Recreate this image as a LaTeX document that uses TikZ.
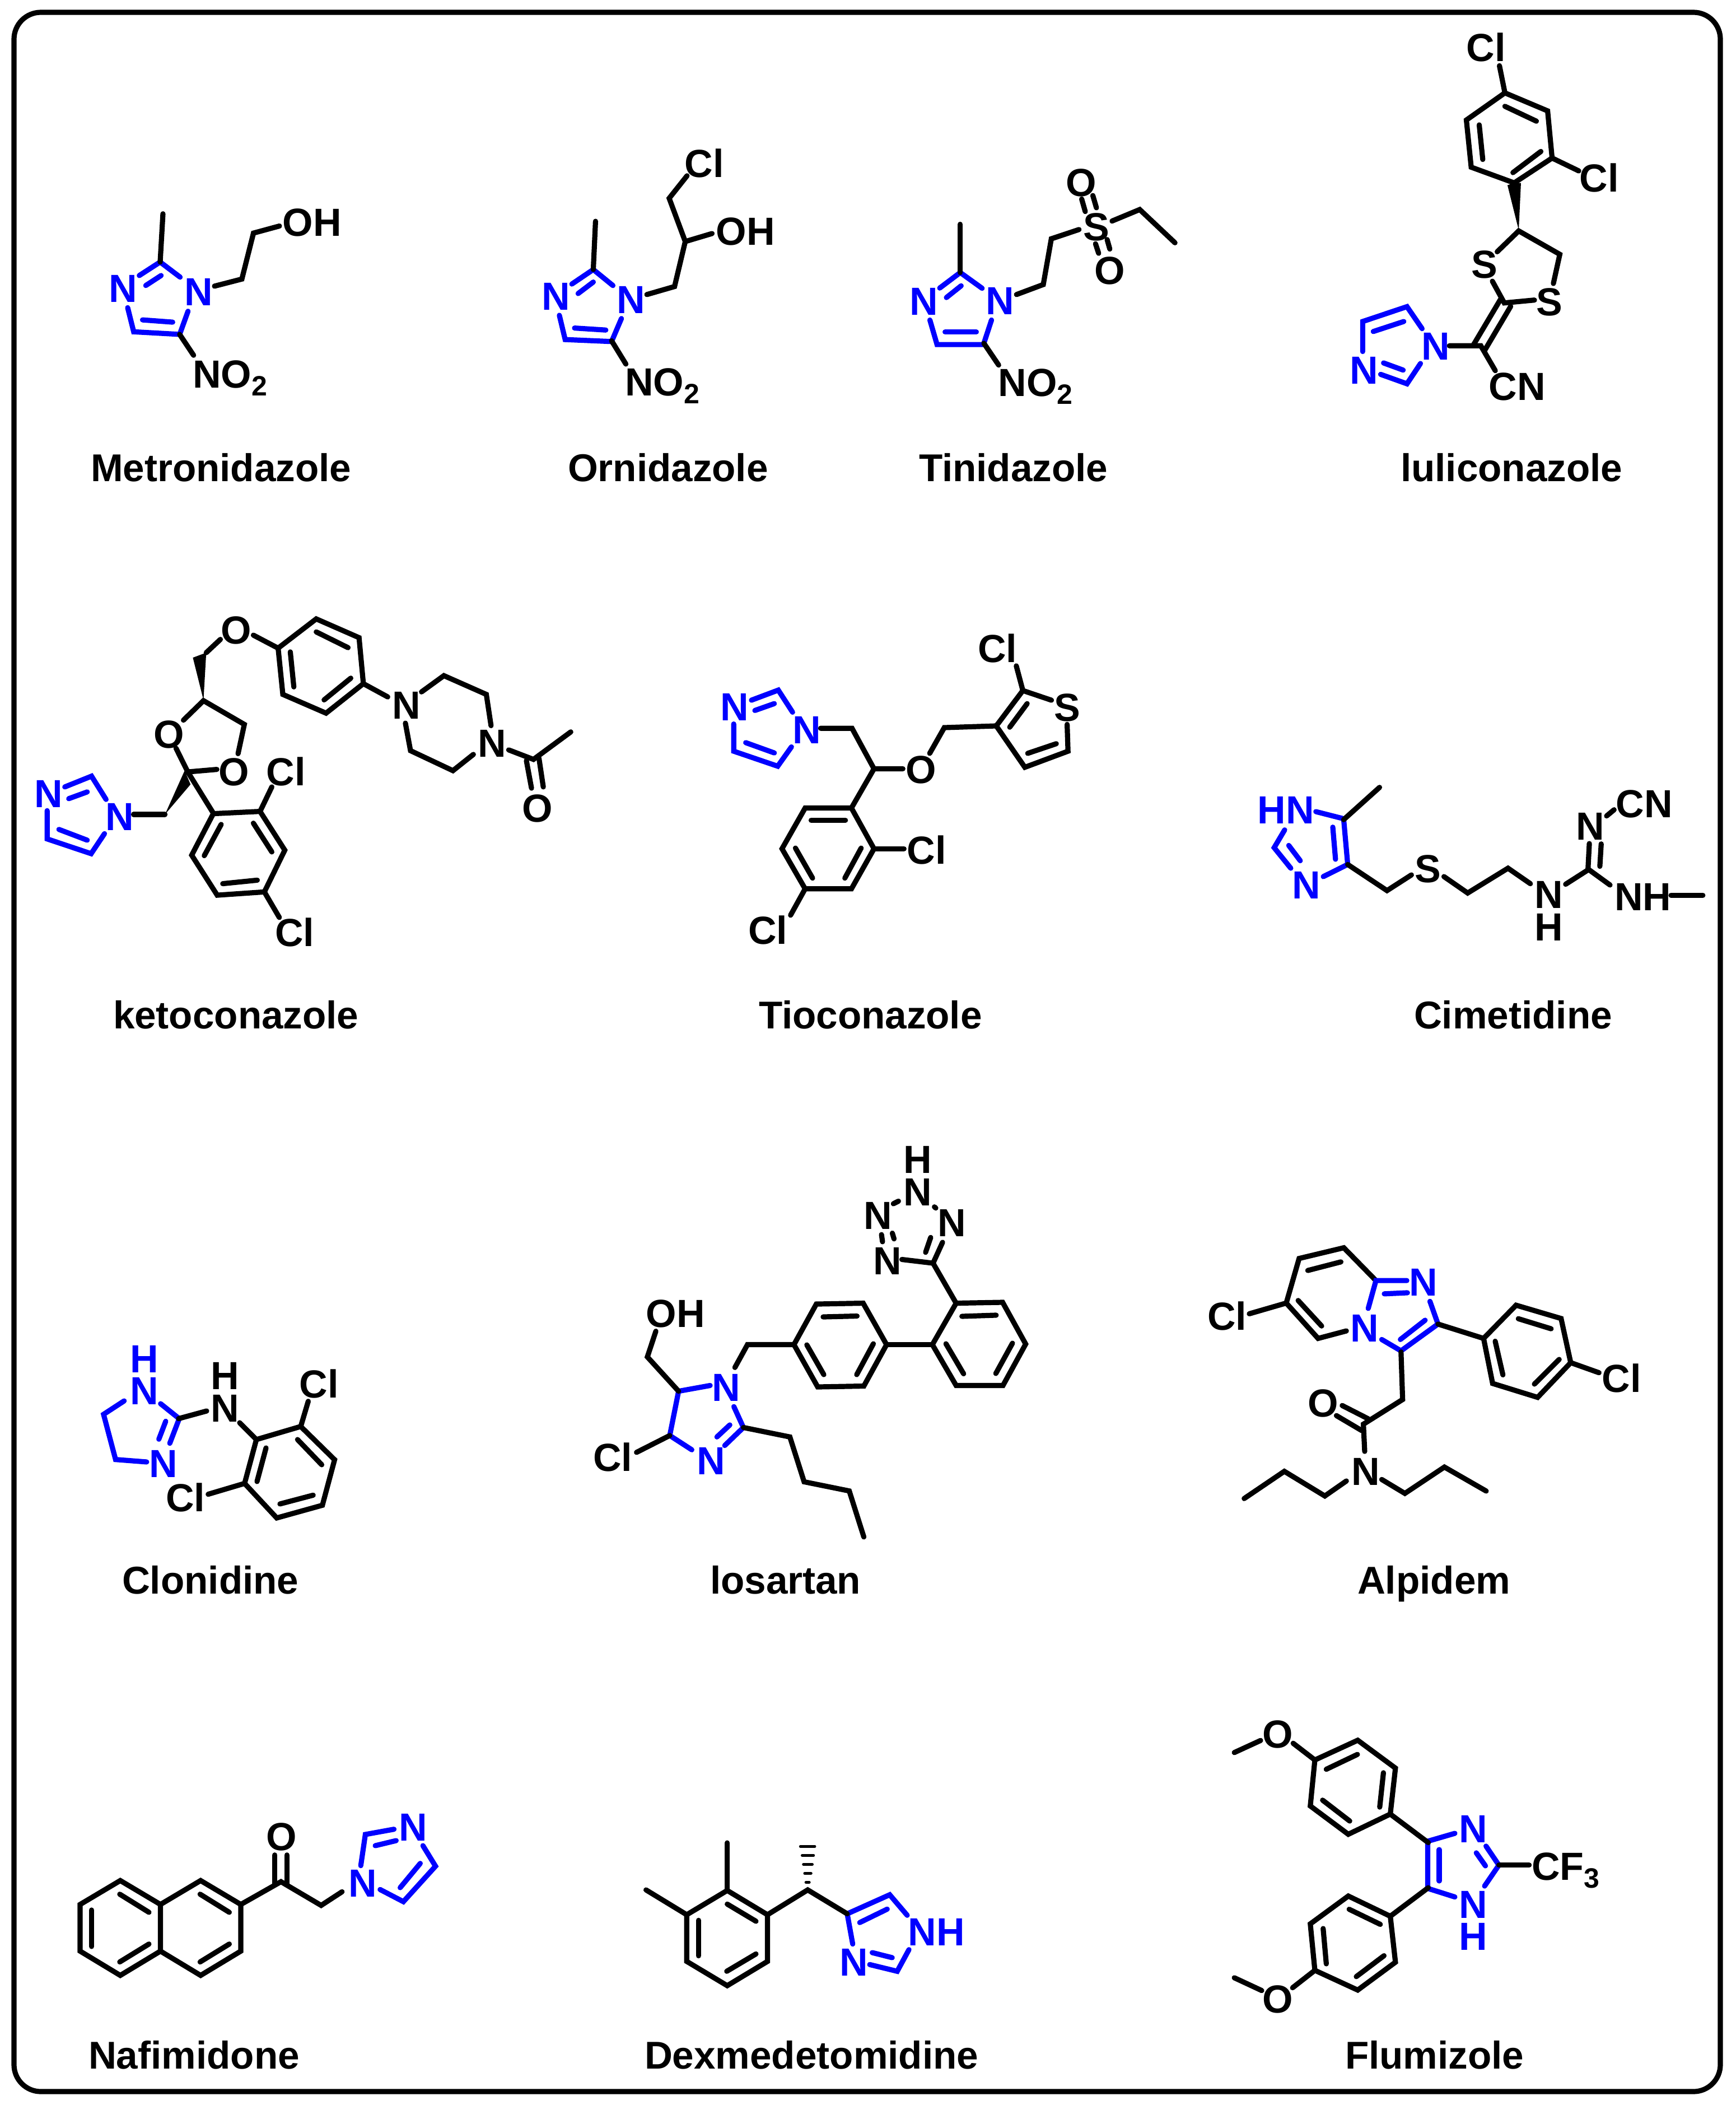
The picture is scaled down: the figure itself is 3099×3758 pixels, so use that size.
\documentclass[tikz,border=0pt]{standalone}
\usepackage{fontspec}
\setmainfont{Liberation Sans}
\definecolor{imz}{RGB}{0,0,255}
\newcounter{nn}
\newcommand\subd[1]{\raisebox{-3.5pt}{\fontsize{12.5}{13}\selectfont #1}}
\tikzset{
  bk/.style={draw=black,line width=2.3pt,line cap=round,line join=miter},
  bl/.style={draw=imz,line width=2.3pt,line cap=round,line join=miter},
  hashb/.style={draw=black,line width=1.3pt,line cap=round},
  frame/.style={draw=black,line width=2.3pt,rounded corners=12pt},
  atom/.style={anchor=base west,inner sep=0pt,outer sep=0pt,xshift=-1pt,font=\fontsize{17.5}{20}\selectfont\bfseries},
  title/.style={anchor=base west,inner sep=0pt,outer sep=0pt,xshift=-.5pt,font=\fontsize{17.3}{20}\selectfont\bfseries},
  zm/.style n args={4}{xshift=#1*0.25pt,yshift=-#2*0.25pt,x=#3*0.25pt,y=-#4*0.25pt}
}
\def\A(#1,#2)#3{\stepcounter{nn}\node[atom,text=black] (t\thenn) at (#1,#2) {#3};}
\def\B(#1,#2)#3{\stepcounter{nn}\node[atom,text=imz] (t\thenn) at (#1,#2) {#3};}
\def\T(#1,#2)#3{\stepcounter{nn}\node[title,text=black] (t\thenn) at (#1,#2) {#3};}
\begin{document}
\begin{tikzpicture}[x=0.25pt,y=-0.25pt]
\useasboundingbox (0,0) rectangle (3099,3758);
\draw[frame] (25,22) rectangle (3072,3734);
% titles
\T(164,859){Metronidazole}
\T(1016,859){Ornidazole}
\T(1643,859){Tinidazole}
\T(2503,859){luliconazole}
\T(204,1836){ketoconazole}
\T(1357,1836){Tioconazole}
\T(2527,1836){Cimetidine}
\T(220,2845){Clonidine}
\T(1270,2845){losartan}
\T(2426,2845){Alpidem}
\T(160,3693){Nafimidone}
\T(1153,3693){Dexmedetomidine}
\T(2404,3693){Flumizole}

% Metronidazole
\begin{scope}[zm={0}{0}{.829}{.574}]
\draw[bl] (300,857)--(345,815)--(388,862);
\draw[bl] (314,888)--(347,857);
\draw[bl] (275,957)--(288,1032)--(387,1040)--(405,968);
\draw[bl] (307,995)--(372,1002);
\draw[bk] (351,665)--(345,815);
\draw[bk] (387,1040)--(417,1105);
\draw[bk] (462,890)--(521,868)--(546,725)--(602,703);
\B(240,940){N}\B(402,950){N}
\A(614,735){OH}
\A(420,1207){NO\subd{2}}
\end{scope}

% Ornidazole, Tinidazole
\begin{scope}[zm={900}{200}{.7972}{.4464}]
\draw[bl] (152,688)--(200,630)--(244,694);
\draw[bl] (166,726)--(200,680);
\draw[bl] (124,813)--(137,910)--(241,918)--(263,826);
\draw[bl] (158,864)--(228,872);
\draw[bk] (205,437)--(200,630);
\draw[bk] (241,915)--(273,1008);
\draw[bk] (320,730)--(382,698)--(406,518)--(370,345)--(410,255);
\draw[bk] (406,518)--(466,486);
\B(90,792){N}\B(258,806){N}
\A(410,260){Cl}\A(480,532){OH}\A(276,1135){NO\subd{2}}
\draw[bl] (976,704)--(1022,642)--(1071,705);
\draw[bl] (991,742)--(1024,695);
\draw[bl] (954,832)--(970,930)--(1074,930)--(1092,832);
\draw[bl] (988,880)--(1058,880);
\draw[bk] (1022,449)--(1022,642);
\draw[bk] (1075,925)--(1108,1012);
\draw[bk] (1148,730)--(1208,690)--(1226,507)--(1288,470);
\draw[bk] (1294,348)--(1302,398);\draw[bk] (1319,334)--(1327,383);
\draw[bk] (1325,527)--(1332,565);\draw[bk] (1351,510)--(1357,548);
\draw[bk] (1362,436)--(1424,390)--(1503,523);
\B(914,812){N}\B(1084,810){N}
\A(1303,515){S}\A(1264,338){O}\A(1328,690){O}
\A(1112,1137){NO\subd{2}}
\end{scope}

% Luliconazole
\begin{scope}[zm={2200}{0}{.5733}{.5102}]
\draw[bk] (850,325)--(983,388)--(997,553)--(879,640)--(745,585)--(730,420)--cycle;
\draw[bk] (850,372)--(948,424);\draw[bk] (962,530)--(875,604);\draw[bk] (770,437)--(781,558);
\draw[bk] (833,230)--(850,325);\draw[bk] (997,553)--(1080,598);
\fill[black] (893,805)--(858,648)--(879,640)--(900,640)--cycle;
\draw[bk] (826,881)--(893,808)--(1021,890)--(1001,992);
\draw[bk] (811,984)--(848,1060)--(942,1050);
\draw[bk] (836,1048)--(753,1205);\draw[bk] (868,1072)--(786,1228);
\draw[bk] (677,1210)--(775,1210)--(820,1297);
\draw[bl] (592,1150)--(545,1073)--(407,1125)--(407,1230);
\draw[bl] (535,1125)--(440,1160);
\draw[bl] (587,1272)--(545,1343)--(463,1310);
\draw[bl] (472,1270)--(533,1295);
\A(737,215){Cl}\A(1090,672){Cl}\A(752,973){S}\A(955,1105){S}\A(807,1400){CN}
\B(598,1260){N}\B(374,1343){N}
\end{scope}

% Ketoconazole
\begin{scope}[zm={0}{1050}{.7015}{.4464}]
\fill[black] (518,448)--(491,278)--(525,258)--cycle;
\draw[bk] (525,258)--(561,205);
\draw[bk] (708,240)--(805,123)--(914,198)--(925,382)--(830,500)--(720,425)--cycle;
\draw[bk] (645,188)--(708,240);
\draw[bk] (805,175)--(886,238);\draw[bk] (893,360)--(825,447);\draw[bk] (748,395)--(739,255);
\draw[bk] (925,382)--(987,435);
\draw[bk] (1073,415)--(1130,350)--(1238,425)--(1250,550);
\draw[bk] (1205,665)--(1153,730)--(1045,650)--(1032,540);
\draw[bk] (1295,647)--(1358,685)--(1453,575);
\draw[bk] (1340,690)--(1353,800);\draw[bk] (1372,680)--(1383,795);
\draw[bk] (467,528)--(518,450)--(622,545)--(606,662);
\draw[bk] (448,640)--(478,735)--(552,725);
\fill[black] (420,905)--(470,730)--(485,785)--cycle;
\draw[bk] (420,905)--(340,905);
\draw[bk] (478,735)--(543,900);
\draw[bk] (543,902)--(662,893)--(725,1048)--(673,1215)--(553,1228)--(488,1068)--cycle;
\draw[bk] (662,893)--(692,795);\draw[bk] (673,1215)--(711,1317);
\draw[bk] (563,945)--(520,1070);\draw[bk] (645,940)--(692,1055);\draw[bk] (655,1168)--(567,1182);
\draw[bl] (165,795)--(233,752)--(270,845);
\draw[bl] (175,842)--(222,815);
\draw[bl] (120,890)--(120,1003)--(232,1062)--(266,982);
\draw[bl] (150,965)--(222,1008);
\A(568,222){O}\A(397,640){O}\A(562,790){O}\A(684,790){Cl}\A(706,1432){Cl}
\A(1005,522){N}\A(1222,675){N}\A(1335,935){O}
\B(94,877){N}\B(275,970){N}
\end{scope}

% Tioconazole
\begin{scope}[zm={1200}{1100}{.5102}{.3827}]
\draw[bl] (278,392)--(372,345)--(422,448);
\draw[bl] (290,440)--(358,408);
\draw[bl] (216,503)--(216,630)--(370,700)--(418,610);
\draw[bl] (258,590)--(358,638);
\draw[bk] (520,523)--(630,523)--(707,712)--(808,712);
\draw[bk] (707,712)--(628,895);
\draw[bk] (902,640)--(953,520)--(1135,512);
\draw[bk] (1328,392)--(1228,347)--(1135,512)--(1235,705)--(1386,630)--(1383,505);
\draw[bk] (1182,518)--(1243,408);\draw[bk] (1245,640)--(1345,595);
\draw[bk] (1228,347)--(1205,232);
\draw[bk] (628,895)--(466,895)--(385,1085)--(466,1272)--(628,1272)--(707,1085)--cycle;
\draw[bk] (487,952)--(607,952);\draw[bk] (432,1082)--(492,1222);\draw[bk] (662,1082)--(605,1222);
\draw[bk] (707,1085)--(812,1085);\draw[bk] (466,1272)--(415,1395);
\B(178,488){N}\B(430,595){N}
\A(826,780){O}\A(1078,215){Cl}\A(1345,490){S}\A(830,1157){Cl}\A(275,1530){Cl}
\end{scope}

% Cimetidine
\begin{scope}[zm={2150}{1350}{.6052}{.3333}]
\draw[bl] (330,297)--(412,335)--(424,580)--(352,645);
\draw[bl] (380,380)--(388,552);
\draw[bl] (238,395)--(207,490)--(256,600);
\draw[bl] (250,478)--(284,560);
\draw[bk] (518,167)--(412,340);
\draw[bk] (424,580)--(540,720)--(612,636);
\draw[bk] (708,645)--(778,733)--(897,600)--(963,683);
\draw[bk] (1067,686)--(1135,607)--(1198,690);
\draw[bk] (1133,607)--(1137,468);\draw[bk] (1168,590)--(1172,470);
\draw[bk] (1188,320)--(1210,287);
\draw[bk] (1378,745)--(1472,745);
\B(165,362){HN}\B(267,763){N}
\A(628,678){S}\A(982,815){N}\A(982,988){H}\A(1105,450){N}\A(1222,328){CN}\A(1218,827){NH}
\end{scope}

% Clonidine
\begin{scope}[zm={100}{2400}{.3827}{.3333}]
\draw[bl] (318,303)--(222,375)--(278,617)--(423,630);
\draw[bl] (488,318)--(575,398)--(531,530);
\draw[bl] (512,412)--(480,508);
\draw[bk] (572,398)--(703,357);
\draw[bk] (857,420)--(935,510);
\draw[bk] (935,510)--(1142,440)--(1300,618)--(1243,862)--(1030,930)--(880,745)--cycle;
\draw[bk] (980,555)--(938,735);\draw[bk] (1127,510)--(1240,645);\draw[bk] (1200,808)--(1045,855);
\draw[bk] (1142,440)--(1177,305);\draw[bk] (880,745)--(710,803);
\B(356,150){H}\B(356,322){N}\B(445,713){N}
\A(733,241){H}\A(733,415){N}\A(1147,286){Cl}\A(523,895){Cl}
\end{scope}

% Losartan
\begin{scope}[zm={950}{2000}{.6059}{.5102}]
\draw[bk] (1065,292)--(1080,283);\draw[bk] (1186,303)--(1190,307);
\draw[bk] (1030,400)--(1033,425);\draw[bk] (1062,395)--(1067,415);
\draw[bk] (1175,410)--(1160,462);
\draw[bk] (1210,427)--(1182,500)--(1090,487);
\draw[bk] (1182,500)--(1250,640);
\draw[bk] (1250,640)--(1387,637)--(1455,783)--(1388,928)--(1250,928)--(1180,785)--cycle;
\draw[bk] (1267,686)--(1368,682);\draw[bk] (1416,780)--(1367,886);\draw[bk] (1272,887)--(1220,782);
\draw[bk] (1047,785)--(1180,785);
\draw[bk] (838,643)--(976,640)--(1045,785)--(978,930)--(842,933)--(772,785)--cycle;
\draw[bk] (858,688)--(958,685);\draw[bk] (1006,782)--(957,890);\draw[bk] (860,890)--(810,786);
\draw[bk] (772,785)--(635,785)--(598,865);
\draw[bl] (525,928)--(432,948)--(406,1103)--(471,1153);
\draw[bl] (595,1002)--(623,1075)--(568,1138);
\draw[bl] (583,1066)--(545,1108);
\draw[bk] (432,948)--(340,828)--(365,738);
\draw[bk] (406,1103)--(308,1162);
\draw[bk] (623,1075)--(760,1108)--(802,1265)--(935,1297)--(978,1458);
\A(1102,185){H}\A(1102,298){N}\A(985,381){N}\A(1203,407){N}\A(1013,540){N}
\A(343,725){OH}\A(187,1227){Cl}
\B(537,983){N}\B(493,1240){N}
\end{scope}

% Alpidem
\begin{scope}[zm={2100}{2200}{.574}{.3827}]
\draw[bk] (622,225)--(522,72)--(383,122)--(343,330)--(442,495)--(530,460);
\draw[bk] (410,178)--(513,138);\draw[bk] (380,318)--(453,437);
\draw[bk] (343,330)--(228,380);
\draw[bl] (598,355)--(622,225)--(718,225);
\draw[bl] (648,287)--(720,282);
\draw[bl] (790,322)--(815,428)--(700,553)--(640,500);
\draw[bl] (775,410)--(698,500);
\draw[bk] (815,428)--(957,495);
\draw[bk] (957,495)--(1058,340)--(1198,402)--(1228,608)--(1125,770)--(985,705)--cycle;
\draw[bk] (1065,403)--(1167,450);\draw[bk] (1192,593)--(1115,708);\draw[bk] (1017,665)--(993,508);
\draw[bk] (1228,608)--(1316,655);
\draw[bk] (700,558)--(705,780)--(583,895)--(587,1022);
\draw[bk] (598,870)--(517,808);\draw[bk] (578,925)--(499,855);
\draw[bk] (640,1153)--(712,1218)--(835,1095)--(965,1207);
\draw[bk] (530,1160)--(463,1230)--(337,1115)--(212,1242);
\A(105,455){Cl}\A(1332,747){Cl}\A(417,862){O}\A(553,1180){N}
\B(733,297){N}\B(550,510){N}
\end{scope}

% Nafimidone
\begin{scope}[zm={100}{3200}{.4783}{.3333}]
\draw[bk] (240,472)--(390,600)--(390,850)--(240,980)--(90,850)--(90,600)--cycle;
\draw[bk] (238,545)--(347,642);\draw[bk] (347,812)--(238,908);\draw[bk] (133,630)--(133,825);
\draw[bk] (390,600)--(540,472)--(690,600)--(690,850)--(540,980)--(390,850);
\draw[bk] (538,545)--(647,642);\draw[bk] (647,812)--(538,908);
\draw[bk] (690,600)--(840,478)--(990,605)--(1068,532);
\draw[bk] (817,335)--(817,490);\draw[bk] (862,335)--(862,490);
\draw[bl] (1138,392)--(1155,225)--(1262,197);
\draw[bl] (1192,285)--(1270,258);
\draw[bl] (1370,285)--(1417,395)--(1297,585)--(1210,520);
\draw[bl] (1360,380)--(1285,510);
\A(793,310){O}
\B(1100,560){N}\B(1290,260){N}
\end{scope}

% Dexmedetomidine
\begin{scope}[zm={1100}{3200}{.4464}{.3333}]
\draw[bl] (925,650)--(1095,548)--(1165,658);
\draw[bl] (975,697)--(1085,625);
\draw[bl] (925,650)--(947,812);
\draw[bl] (1172,842)--(1125,958)--(1015,922);
\draw[bl] (1025,858)--(1105,885);
\draw[bk] (445,525)--(606,655)--(606,905)--(445,1035)--(283,905)--(283,655)--cycle;
\draw[bk] (445,598)--(560,690);\draw[bk] (560,865)--(443,958);\draw[bk] (330,685)--(330,875);
\draw[bk] (445,525)--(445,270);\draw[bk] (283,655)--(120,522);
\draw[bk] (606,655)--(767,522)--(925,650);
\draw[hashb] (738,289)--(795,289);
\draw[hashb] (745,337)--(790,337);
\draw[hashb] (750,385)--(785,385);
\draw[hashb] (755,433)--(780,433);
\draw[hashb] (760,481)--(773,481);
\B(905,982){N}\B(1178,820){NH}
\end{scope}

% Flumizole
\begin{scope}[zm={2150}{3050}{.5102}{.4145}]
\draw[bk] (388,222)--(538,137)--(670,257)--(652,455)--(505,542)--(372,420)--cycle;
\draw[bk] (428,262)--(537,198);\draw[bk] (628,277)--(615,425);\draw[bk] (510,485)--(415,395);
\draw[bk] (388,222)--(312,150);\draw[bk] (198,138)--(106,190);
\draw[bl] (878,538)--(783,572)--(783,775)--(878,812);
\draw[bl] (823,608)--(823,743);
\draw[bl] (987,593)--(1032,675)--(982,765);
\draw[bl] (953,622)--(985,678);
\draw[bk] (652,455)--(785,578);
\draw[bk] (652,895)--(505,808)--(372,928)--(388,1128)--(538,1213)--(670,1093)--cycle;
\draw[bk] (617,930)--(508,865);\draw[bk] (417,948)--(428,1100);\draw[bk] (533,1155)--(630,1065);
\draw[bk] (388,1128)--(310,1203);\draw[bk] (202,1215)--(106,1160);
\draw[bk] (652,895)--(785,772);
\draw[bk] (1032,675)--(1138,675);
\A(213,170){O}\A(213,1312){O}\A(1155,740){CF\subd{3}}
\B(900,578){N}\B(900,904){N}\B(900,1040){H}
\end{scope}
\end{tikzpicture}
\end{document}
